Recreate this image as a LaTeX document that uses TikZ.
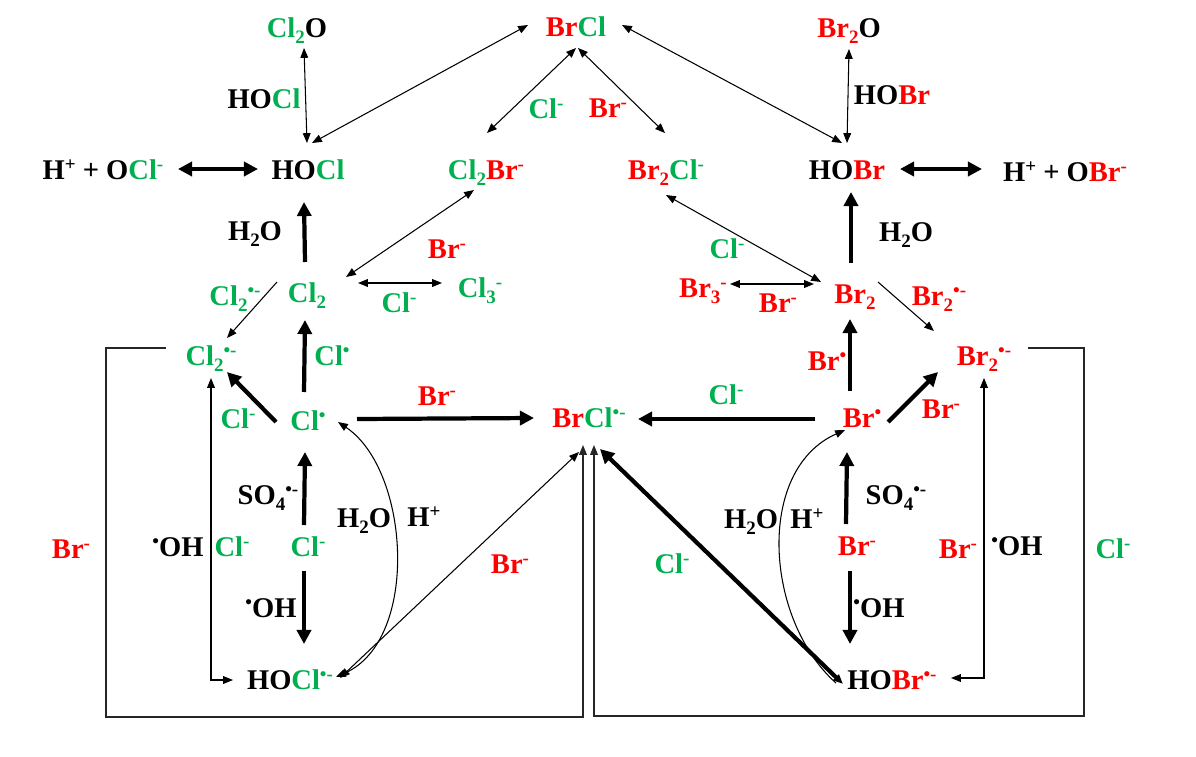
\documentclass[tikz,border=0pt]{standalone}
\usepackage{fontspec}
\setmainfont{Liberation Serif}
\usepackage{xcolor}
\usetikzlibrary{arrows.meta}
\definecolor{clgreen}{HTML}{00B050}
\definecolor{brred}{HTML}{FF0000}
\newcommand{\gr}[1]{\textcolor{clgreen}{#1}}
\newcommand{\rd}[1]{\textcolor{brred}{#1}}
\newcommand{\ups}[1]{\raisebox{0.32em}{\fontsize{13.5}{13.5}\selectfont #1}}
\newcommand{\dwn}[1]{\raisebox{-0.2em}{\fontsize{13.5}{13.5}\selectfont #1}}

\begin{document}
\begin{tikzpicture}[
    x=0.025cm,
    y=-0.025cm,
    species/.style={inner sep=0pt, text height=18.5pt, text depth=5pt, font=\fontsize{20.3}{24}\selectfont\bfseries},
    flow/.style={line width=3pt, -{Stealth[length=10pt, width=10pt, inset=0pt]}},
    swapflow/.style={line width=3pt, {Stealth[length=10pt, width=10pt, inset=0pt]}-{Stealth[length=10pt, width=10pt, inset=0pt]}},
    link/.style={line width=0.75pt, -{Stealth[length=7pt, width=5.5pt, inset=0pt]}},
    duplex/.style={line width=0.75pt, {Stealth[length=7pt, width=5.5pt, inset=0pt]}-{Stealth[length=7pt, width=5.5pt, inset=0pt]}},
    frame/.style={line width=0.9pt, draw=black!85, -{Stealth[length=7pt, width=5.5pt, inset=0pt]}}
]
    \useasboundingbox (0,0) rectangle (1196,756);

    % Arrange species
    \node[species] (cltwoo) at (297,28) {\gr{Cl\dwn{2}}O};
    \node[species] (brcl) at (576,27) {\rd{Br}\gr{Cl}};
    \node[species] (brtwoo) at (849,28) {\rd{Br\dwn{2}}O};
    \node[species] (hoclion) at (103,170) {H\ups{+} + O\gr{Cl\ups{-}}};
    \node[species] (hocl) at (308,170) {HO\gr{Cl}};
    \node[species] (cltwobr) at (486,170) {\gr{Cl\dwn{2}}\rd{Br\ups{-}}};
    \node[species] (brtwocl) at (666,170) {\rd{Br\dwn{2}}\gr{Cl\ups{-}}};
    \node[species] (hobr) at (847,170) {HO\rd{Br}};
    \node[species] (hobrion) at (1065,172) {H\ups{+} + O\rd{Br\ups{-}}};
    \node[species] (cltwo) at (307,293) {\gr{Cl\dwn{2}}};
    \node[species] (clthree) at (480,288) {\gr{Cl\dwn{3}\ups{-}}};
    \node[species] (brthree) at (703,288) {\rd{Br\dwn{3}\ups{-}}};
    \node[species] (brtwo) at (855,294) {\rd{Br\dwn{2}}};
    \node[species] (cltworad) at (211,356) {\gr{Cl\dwn{2}\ups{•-}}};
    \node[species] (brtworad) at (984,356) {\rd{Br\dwn{2}\ups{•-}}};
    \node[species] (clrad) at (308,421) {\gr{Cl\ups{•}}};
    \node[species] (brclrad) at (589,418) {\rd{Br}\gr{Cl\ups{•-}}};
    \node[species] (brrad) at (862,418) {\rd{Br\ups{•}}};
    \node[species] (clion) at (308,547) {\gr{Cl\ups{-}}};
    \node[species] (brion) at (857,546) {\rd{Br\ups{-}}};
    \node[species] (hoclrad) at (290,680) {HO\gr{Cl\ups{•-}}};
    \node[species] (hobrrad) at (892,680) {HO\rd{Br\ups{•-}}};

    % Labels on the arrows
    \node[species] (lhocl) at (264,99) {HO\gr{Cl}};
    \node[species] (lhobr) at (892,95) {HO\rd{Br}};
    \node[species] (lclbrcl) at (546,109) {\gr{Cl\ups{-}}};
    \node[species] (lbrbrcl) at (608,108) {\rd{Br\ups{-}}};
    \node[species] (lwaterl) at (255,231) {H\dwn{2}O};
    \node[species] (lwaterr) at (906,232) {H\dwn{2}O};
    \node[species] (lbrcltwo) at (447,249) {\rd{Br\ups{-}}};
    \node[species] (lclbrtwo) at (727,249) {\gr{Cl\ups{-}}};
    \node[species] (lcltworad) at (235,296) {\gr{Cl\dwn{2}\ups{•-}}};
    \node[species] (lclthree) at (399,303) {\gr{Cl\ups{-}}};
    \node[species] (lbrthree) at (778,303) {\rd{Br\ups{-}}};
    \node[species] (lbrtworad) at (939,296) {\rd{Br\dwn{2}\ups{•-}}};
    \node[species] (lclrad) at (332,356) {\gr{Cl\ups{•}}};
    \node[species] (lbrrad) at (827,361) {\rd{Br\ups{•}}};
    \node[species] (lbrmid) at (437,396) {\rd{Br\ups{-}}};
    \node[species] (lclmid) at (726,395) {\gr{Cl\ups{-}}};
    \node[species] (lclleft) at (238,419) {\gr{Cl\ups{-}}};
    \node[species] (lbrright) at (941,409) {\rd{Br\ups{-}}};
    \node[species] (lsfl) at (268,495) {SO\dwn{4}\ups{•-}};
    \node[species] (lsfr) at (896,495) {SO\dwn{4}\ups{•-}};
    \node[species] (lwatercl) at (364,518) {H\dwn{2}O};
    \node[species] (lhpcl) at (424,517) {H\ups{+}};
    \node[species] (lwaterbr) at (751,519) {H\dwn{2}O};
    \node[species] (lhpbr) at (807,519) {H\ups{+}};
    \node[species] (lbrframe) at (71,549) {\rd{Br\ups{-}}};
    \node[species] (lohcl) at (178,547) {\ups{•}OH};
    \node[species] (lclelbow) at (232,547) {\gr{Cl\ups{-}}};
    \node[species] (lbrdiag) at (510,564) {\rd{Br\ups{-}}};
    \node[species] (lcldiag) at (672,564) {\gr{Cl\ups{-}}};
    \node[species] (lbrelbow) at (958,549) {\rd{Br\ups{-}}};
    \node[species] (lohbr) at (1017,546) {\ups{•}OH};
    \node[species] (lclframe) at (1113,549) {\gr{Cl\ups{-}}};
    \node[species] (lohdownl) at (271,608) {\ups{•}OH};
    \node[species] (lohdownr) at (879,608) {\ups{•}OH};

    % Heavy transitions
    \path[swapflow]
        ([shift={(75,-1)}]hoclion.center) edge ([shift={(-50,-1)}]hocl.center)
        ([shift={(53,-1)}]hobr.center) edge ([shift={(-83,-3)}]hobrion.center);
    \path[flow]
        ([shift={(-2,-31)}]cltwo.center) edge ([shift={(-4,32)}]hocl.center)
        ([shift={(-4,-31)}]brtwo.center) edge ([shift={(4,22)}]hobr.center)
        ([shift={(-4,-29)}]clrad.center) edge ([shift={(-2,27)}]cltwo.center)
        ([shift={(-32,1)}]clrad.center) edge ([shift={(16,16)}]cltworad.center)
        ([shift={(-4,-22)}]clion.center) edge ([shift={(-3,31)}]clrad.center)
        ([shift={(-4,24)}]clion.center) edge ([shift={(14,-36)}]hoclrad.center)
        ([shift={(49,-2)}]clrad.center) edge ([shift={(-55,0)}]brclrad.center)
        ([shift={(-47,1)}]brrad.center) edge ([shift={(49,1)}]brclrad.center)
        ([shift={(-12,-27)}]brrad.center) edge ([shift={(-5,25)}]brtwo.center)
        ([shift={(26,4)}]brrad.center) edge ([shift={(-46,16)}]brtworad.center)
        ([shift={(-11,-22)}]brion.center) edge ([shift={(-15,34)}]brrad.center)
        ([shift={(-7,25)}]brion.center) edge ([shift={(-42,-36)}]hobrrad.center);
    \draw[line width=3pt, {Stealth[length=10pt, width=10pt, inset=0pt]}-{Stealth[length=7pt, width=5.5pt, inset=0pt]}]
        ([shift={(11,31)}]brclrad.center) -- ([shift={(-49,4)}]hobrrad.center);

    % Thin transitions
    \path[duplex]
        ([shift={(7,20)}]cltwoo.center) edge ([shift={(-1,-27)}]hocl.center)
        ([shift={(4,-27)}]hocl.center) edge ([shift={(-48,-2)}]brcl.center)
        ([shift={(0,21)}]brcl.center) edge ([shift={(1,-37)}]cltwobr.center)
        ([shift={(2,21)}]brcl.center) edge ([shift={(-1,-37)}]brtwocl.center)
        ([shift={(46,-2)}]brcl.center) edge ([shift={(-5,-27)}]hobr.center)
        ([shift={(0,21)}]brtwoo.center) edge ([shift={(0,-27)}]hobr.center)
        ([shift={(-12,20)}]cltwobr.center) edge ([shift={(39,-16)}]cltwo.center)
        ([shift={(0,25)}]brtwocl.center) edge ([shift={(-34,-12)}]brtwo.center)
        ([shift={(51,-10)}]cltwo.center) edge ([shift={(-38,-5)}]clthree.center)
        ([shift={(27,-4)}]brthree.center) edge ([shift={(-41,-10)}]brtwo.center)
        ([shift={(50,-2)}]hoclrad.center) edge ([shift={(-10,34)}]brclrad.center);
    \path[link]
        ([shift={(-30,-11)}]cltwo.center) edge ([shift={(16,-18)}]cltworad.center)
        ([shift={(23,-12)}]brtwo.center) edge ([shift={(-50,-25)}]brtworad.center);
    \draw[duplex] ([shift={(0,22)}]cltworad.center) |- ([shift={(-57,0)}]hoclrad.center);
    \draw[duplex] ([shift={(0,22)}]brtworad.center) |- ([shift={(59,-2)}]hobrrad.center);

    % Curved transitions
    \draw[duplex] ([shift={(46,-3)}]hoclrad.center) .. controls +(84,-37) and +(72,48) .. ([shift={(30,1)}]clrad.center);
    \draw[link] ([shift={(-56,3)}]hobrrad.center) .. controls +(-71,-63) and +(-90,40) .. ([shift={(-17,12)}]brrad.center);

    % Outer frames
    \draw[frame] ([shift={(-45,-8)}]cltworad.center) -- ++(-60,0) -- ++(0,369) -| ([shift={(-6,27)}]brclrad.center);
    \draw[frame] ([shift={(44,-8)}]brtworad.center) -- ++(56,0) -- ++(0,368) -| ([shift={(5,27)}]brclrad.center);
\end{tikzpicture}
\end{document}
